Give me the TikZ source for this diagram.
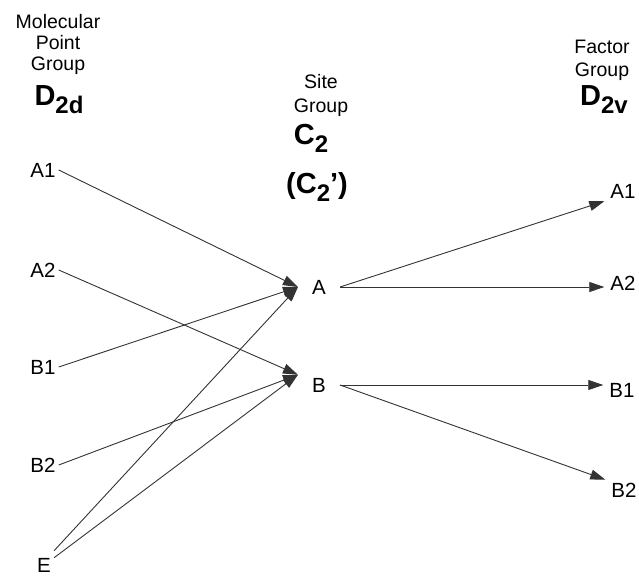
\documentclass[tikz,border=0pt]{standalone}
\usepackage{fontspec}
\setmainfont{Liberation Sans}
\usetikzlibrary{arrows.meta}
\newcommand{\lowsub}[1]{\raisebox{-8pt}{\fontsize{24}{24}\selectfont #1}}
\begin{document}
\begin{tikzpicture}[x=1pt,y=-1pt,>={Triangle[length=15pt,width=10pt]},
  lbl/.style={inner sep=3pt,font=\fontsize{20.5}{21}\selectfont},
  hdr/.style={align=center,inner sep=0pt,font=\fontsize{19.5}{21}\selectfont},
  grp/.style={anchor=base,inner sep=0pt,font=\fontsize{29}{29}\selectfont\bfseries},
  lnk/.style={draw=black!80,line width=0.9pt}]
\useasboundingbox (0,0) rectangle (639,575);
\node[hdr,anchor=north] (hmol) at (58,14) {Molecular\\Point\\Group};
\node[grp] (dtwod) at (59,106) {D\lowsub{2d}};
\node[hdr,anchor=north] (hsite) at (321,74) {Site\\[3pt]Group};
\node[grp] (ctwo) at (311,144) {C\lowsub{2}};
\node[grp] (ctwop) at (317,193) {(C\lowsub{2}')};
\node[hdr,anchor=north] (hfac) at (602,40) {Factor\\[2pt]Group};
\node[grp] (dtwov) at (604,106) {D\lowsub{2v}};
\node[lbl] (lA1) at (43,170) {A1};
\node[lbl] (lA2) at (43,270) {A2};
\node[lbl] (lB1) at (43,367) {B1};
\node[lbl] (lB2) at (43,465) {B2};
\node[lbl] (lE) at (44,565) {E};
\node[lbl,inner xsep=14pt] (sA) at (319,287) {A};
\node[lbl,inner xsep=14pt] (sB) at (319,385) {B};
\node[lbl,inner xsep=6pt] (rA1) at (623,191) {A1};
\node[lbl,inner xsep=6pt] (rA2) at (623,283) {A2};
\node[lbl,inner xsep=6pt] (rB1) at (622,390) {B1};
\node[lbl,inner xsep=6pt] (rB2) at (624,490) {B2};
\draw[lnk,->] (lA1.east) -- (sA.west);
\draw[lnk,->] (lB1.east) -- (sA.west);
\draw[lnk,->] ([yshift=4pt]lE.north east) -- (sA.west);
\draw[lnk,->] ([yshift=-3pt]lE.north east) -- (sB.north west);
\draw[lnk,->] (lA2.east) -- (sB.north west);
\draw[lnk,->] (lB2.east) -- (sB.north west);
\draw[lnk,->] (sA.east) -- (rA1.south west);
\draw[lnk,->] (sA.east) -- (sA.east -| rA2.west);
\draw[lnk,->] (sB.east) -- (sB.east -| rB1.west);
\draw[lnk,->] (sB.east) -- (rB2.north west);
\end{tikzpicture}
\end{document}
